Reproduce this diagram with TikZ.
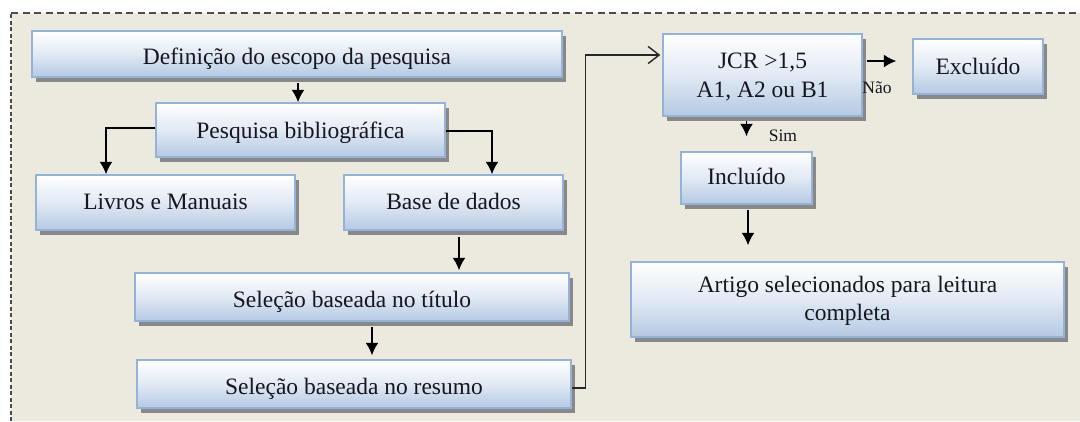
\documentclass[tikz,border=0pt]{standalone}
\usepackage{fontspec}
\setmainfont{Liberation Serif}
\usetikzlibrary{arrows.meta,shadows}
\definecolor{bgc}{HTML}{ECE9DF}
\definecolor{boxtop}{HTML}{FFFFFF}
\definecolor{boxbot}{HTML}{B4C9E3}
\definecolor{boxline}{HTML}{95B3D7}
\definecolor{shadowc}{HTML}{888888}
\definecolor{txt}{HTML}{16161E}
\begin{document}
\begin{tikzpicture}[x=1pt,y=-1pt,
  stepbox/.style={draw=boxline, line width=1.4pt, top color=boxtop, bottom color=boxbot,
    middle color=boxtop!60!boxbot,
    inner sep=0pt, align=center, text=txt,
    text height=16pt, text depth=0pt,
    font=\fontsize{23.5}{27}\selectfont,
    drop shadow={shadow xshift=4pt, shadow yshift=-5pt, fill=shadowc, opacity=1}},
  arr/.style={draw=black, line width=1.8pt, -{Latex[length=12.5pt,width=13pt]}},
  openarr/.style={draw=black!85, line width=1.4pt, -{Straight Barb[length=11pt,width=17pt,line width=1.4pt]}},
  lbl/.style={text=txt, inner sep=0pt, font=\fontsize{17.5}{19}\selectfont}]
\useasboundingbox (0,0) rectangle (1080,421);
\fill[bgc] (11,13) rectangle (1080,421);
\draw[black!70, line width=1.2pt, dash pattern=on 4pt off 2.5pt] (11,421) -- (11,13);
\draw[black!70, line width=1.2pt, dash pattern=on 7pt off 4.5pt] (11,13) -- (1080,13);

\node[stepbox, minimum width=530pt, minimum height=46pt, text height=20pt] (b1) at (297,54) {Definição do escopo da pesquisa};
\node[stepbox, minimum width=289pt, minimum height=54pt] (b2) at (300.5,130) {Pesquisa bibliográfica};
\node[stepbox, minimum width=259pt, minimum height=55pt, text height=13pt] (livros) at (165.5,202.5) {Livros e Manuais};
\node[stepbox, minimum width=219pt, minimum height=55pt, text height=13pt] (base) at (453.5,202.5) {Base de dados};
\node[stepbox, minimum width=434pt, minimum height=48pt, text height=20pt] (titulo) at (352,297) {Seleção baseada no título};
\node[stepbox, minimum width=434pt, minimum height=48pt, text height=21pt] (resumo) at (354,384) {Seleção baseada no resumo};
\node[stepbox, minimum width=199pt, minimum height=82pt, text height=50pt, text depth=6pt, font=\fontsize{23.5}{29}\selectfont] (jcr) at (762.5,75) {JCR >1,5\\A1, A2 ou B1};
\node[stepbox, minimum width=130pt, minimum height=55pt, text height=15pt] (excl) at (978,66.5) {Excluído};
\node[stepbox, minimum width=131pt, minimum height=52pt, text height=12pt] (incl) at (746.5,178) {Incluído};
\node[stepbox, minimum width=433pt, minimum height=75pt, text height=47pt, text depth=6pt, font=\fontsize{23.5}{28}\selectfont] (artigo) at (847.5,299.5) {Artigo selecionados para leitura\\completa};

\draw[arr, shorten <=5pt] ([xshift=1pt]b1.south) -- ([xshift=1pt]b1.south |- b2.north);
\draw[arr] ([yshift=2pt]b2.west) -| ([xshift=-59.5pt]livros.north);
\draw[arr] ([yshift=-1pt]b2.east) -| ([xshift=38.5pt]base.north);
\draw[arr, shorten <=6pt, shorten >=2pt] ([xshift=5.5pt]base.south) -- ([xshift=5.5pt]base.south |- titulo.north);
\draw[arr, shorten <=5pt, shorten >=4pt] ([xshift=20pt]titulo.south) -- ([xshift=20pt]titulo.south |- resumo.north);
\draw[openarr, shorten >=2pt] ([yshift=-4pt]resumo.east) -- ++(14,0) |- ([yshift=20pt]jcr.west);
\draw[arr, shorten <=4pt, shorten >=16pt] ([yshift=14pt]jcr.east) -- ([yshift=14pt]jcr.east -| excl.west);
\node[lbl] (nao) at (877,88) {Não};
\draw[arr, shorten <=4pt, shorten >=15pt] (jcr.south -| incl.north) -- (incl.north);
\node[lbl] (sim) at (783,136) {Sim};
\draw[arr, shorten <=5pt, shorten >=16pt] ([xshift=1.5pt]incl.south) -- ([xshift=1.5pt]incl.south |- artigo.north);
\end{tikzpicture}
\end{document}
